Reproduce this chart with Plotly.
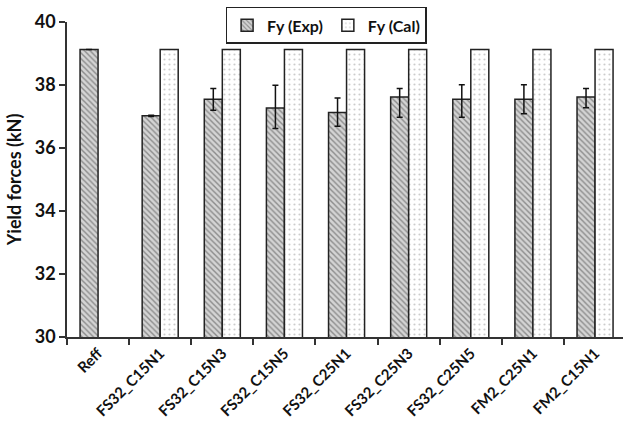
import plotly.graph_objects as go

categories = ["Reff", "FS32_C15N1", "FS32_C15N3", "FS32_C15N5", "FS32_C25N1",
              "FS32_C25N3", "FS32_C25N5", "FM2_C25N1", "FM2_C15N1"]
fy_exp = [39.13, 37.02, 37.55, 37.27, 37.13, 37.62, 37.55, 37.55, 37.62]
err_plus = [0, 0.02, 0.34, 0.72, 0.46, 0.27, 0.46, 0.46, 0.27]
err_minus = [0, 0.02, 0.35, 0.65, 0.44, 0.64, 0.57, 0.46, 0.34]
fy_cal = [None, 39.13, 39.13, 39.13, 39.13, 39.13, 39.13, 39.13, 39.13]

FONT = "Lato"
W = "bold"

fig = go.Figure()
fig.add_trace(go.Bar(
    x=categories, y=fy_exp, name="Fy (Exp)",
    marker=dict(color="#c8c8c8", line=dict(color="#222222", width=1.5),
                pattern=dict(shape="\\", fgcolor="#444444", bgcolor="#d4d4d4",
                             size=4, solidity=0.35)),
    error_y=dict(type="data", symmetric=False, array=err_plus, arrayminus=err_minus,
                 color="#111111", thickness=1.5, width=3),
))
fig.add_trace(go.Bar(
    x=categories, y=fy_cal, name="Fy (Cal)",
    marker=dict(color="white", line=dict(color="#222222", width=1.5),
                pattern=dict(shape=".", fgcolor="#999999", bgcolor="white",
                             size=5, solidity=0.15)),
))

fig.update_layout(
    width=623, height=423,
    margin=dict(l=67, r=0, t=22, b=86),
    paper_bgcolor="white", plot_bgcolor="white",
    barmode="group", bargap=0.42, bargroupgap=0,
    font=dict(family=FONT, color="#111111"),
    showlegend=True,
    legend=dict(orientation="h", x=0.466, xanchor="center", y=1.048, yanchor="top",
                bordercolor="#222222", borderwidth=1.5,
                font=dict(family=FONT, size=16, color="#111111", weight=W),
                itemwidth=30, tracegroupgap=0),
    xaxis=dict(type="category", range=[-0.5, 8.45], tickson="boundaries",
               ticks="outside", ticklen=6, tickcolor="#333333", tickwidth=1.5,
               showline=True, linecolor="#333333", linewidth=1.5,
               tickangle=-45, showgrid=False,
               tickfont=dict(family=FONT, size=15, color="#111111", weight=W)),
    yaxis=dict(range=[30, 40], dtick=2, ticks="outside", ticklen=6,
               tickcolor="#333333", tickwidth=1.5,
               showline=True, linecolor="#333333", linewidth=1.5,
               showgrid=False, zeroline=False,
               tickfont=dict(family=FONT, size=18, color="#111111", weight=W),
               title=dict(text="Yield forces (kN)", standoff=8,
                          font=dict(family=FONT, size=18, color="#111111", weight=W))),
)

fig.write_html("out.html")
